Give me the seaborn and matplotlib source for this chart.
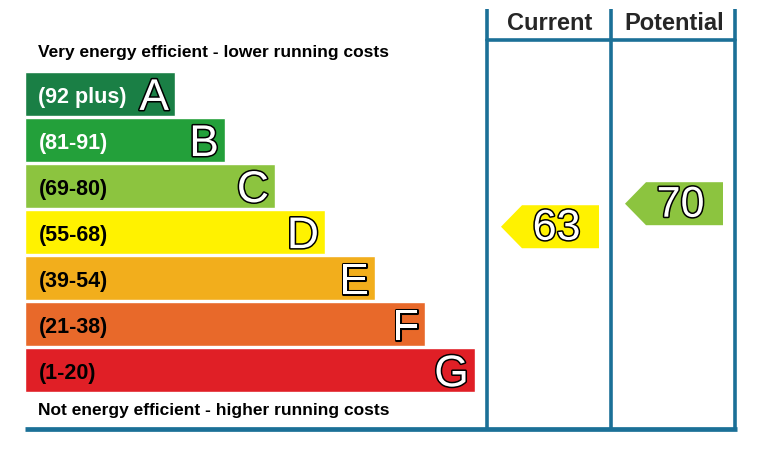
import numpy as np
import pandas as pd
import matplotlib
matplotlib.use("Agg")
import matplotlib.pyplot as plt
import matplotlib.patheffects as pe
from matplotlib.patches import Polygon
import seaborn as sns

# EPC bands
bands = ["A", "B", "C", "D", "E", "F", "G"]
ranges = ["(92 plus)", "(81-91)", "(69-80)", "(55-68)", "(39-54)", "(21-38)", "(1-20)"]
bar_lengths = [3, 4, 5, 6, 7, 8, 9]
band_colors = ["#1a7f45", "#23a03a", "#8cc43f", "#fff200", "#f2ae1c", "#e8692a", "#e01f26"]
label_colors = ["white", "white", "black", "black", "black", "black", "black"]

# ratings
columns = ["Current", "Potential"]
scores = [63, 70]
score_colors = ["#fff200", "#8cc43f"]

line_col = "#1b7097"

sns.set_theme(style="white")
plt.rcParams["font.family"] = ["Liberation Sans", "DejaVu Sans"]

fig = plt.figure(figsize=(7.66, 4.52), dpi=100)
W, H = 766, 452

# bar area, in pixels of the figure
bx0, bx1, by0, by1 = 25, 475, 71.8, 394.2
bar_ax = fig.add_axes([bx0 / W, 1 - by1 / H, (bx1 - bx0) / W, (by1 - by0) / H])

df = pd.DataFrame({"band": bands, "length": bar_lengths, "range": ranges})
sns.barplot(data=df, x="length", y="band", hue="band", palette=band_colors,
            orient="h", width=0.945, ax=bar_ax, legend=False, saturation=1)
bar_ax.set_xlim(0, 9)
bar_ax.axis("off")

outline = [pe.Stroke(linewidth=2.2, foreground="black"), pe.Normal()]
for i, row in df.iterrows():
    bar_ax.text(0.27, i + 0.06, row["range"], ha="left", va="center",
                fontsize=15.5, fontweight="bold", color=label_colors[i])
    bar_ax.text(row["length"] - 0.12, i + 0.1, row["band"], ha="right", va="center",
                fontsize=32, color="white", path_effects=outline)

# overlay in pixel coordinates
ax = fig.add_axes([0, 0, 1, 1])
ax.set_xlim(0, W)
ax.set_ylim(H, 0)
ax.axis("off")

ax.text(38, 52.5, "Very energy efficient - lower running costs", ha="left", va="center",
        fontsize=12.5, fontweight="bold", color="black")
ax.text(38, 410.5, "Not energy efficient - higher running costs", ha="left", va="center",
        fontsize=12.5, fontweight="bold", color="black")

col_x = [487, 611, 735]
for x in col_x:
    ax.plot([x, x], [10, 430], color=line_col, lw=2.6, solid_capstyle="butt")
ax.plot([col_x[0], col_x[-1]], [41, 41], color=line_col, lw=2.6)
ax.plot([25, 737], [430, 430], color=line_col, lw=3.4, solid_capstyle="butt")

for j, name in enumerate(columns):
    cx = (col_x[j] + col_x[j + 1]) / 2
    ax.text(cx + 1, 24, name, ha="center", va="center", fontsize=17, fontweight="bold")

    # arrow placed by score
    yc = 435 - 3.29 * scores[j]
    left = col_x[j] + 14
    right = col_x[j + 1] - 12
    notch = left + 21
    half = 21.5
    poly = Polygon([[left, yc], [notch, yc - half], [right, yc - half],
                    [right, yc + half], [notch, yc + half]],
                   closed=True, facecolor=score_colors[j], edgecolor="none")
    ax.add_patch(poly)
    ax.text((notch + right) / 2 - 4, yc + 2, str(scores[j]), ha="center", va="center",
            fontsize=31, color="white", path_effects=outline)

fig.savefig("out.png", dpi=100, facecolor="white")
